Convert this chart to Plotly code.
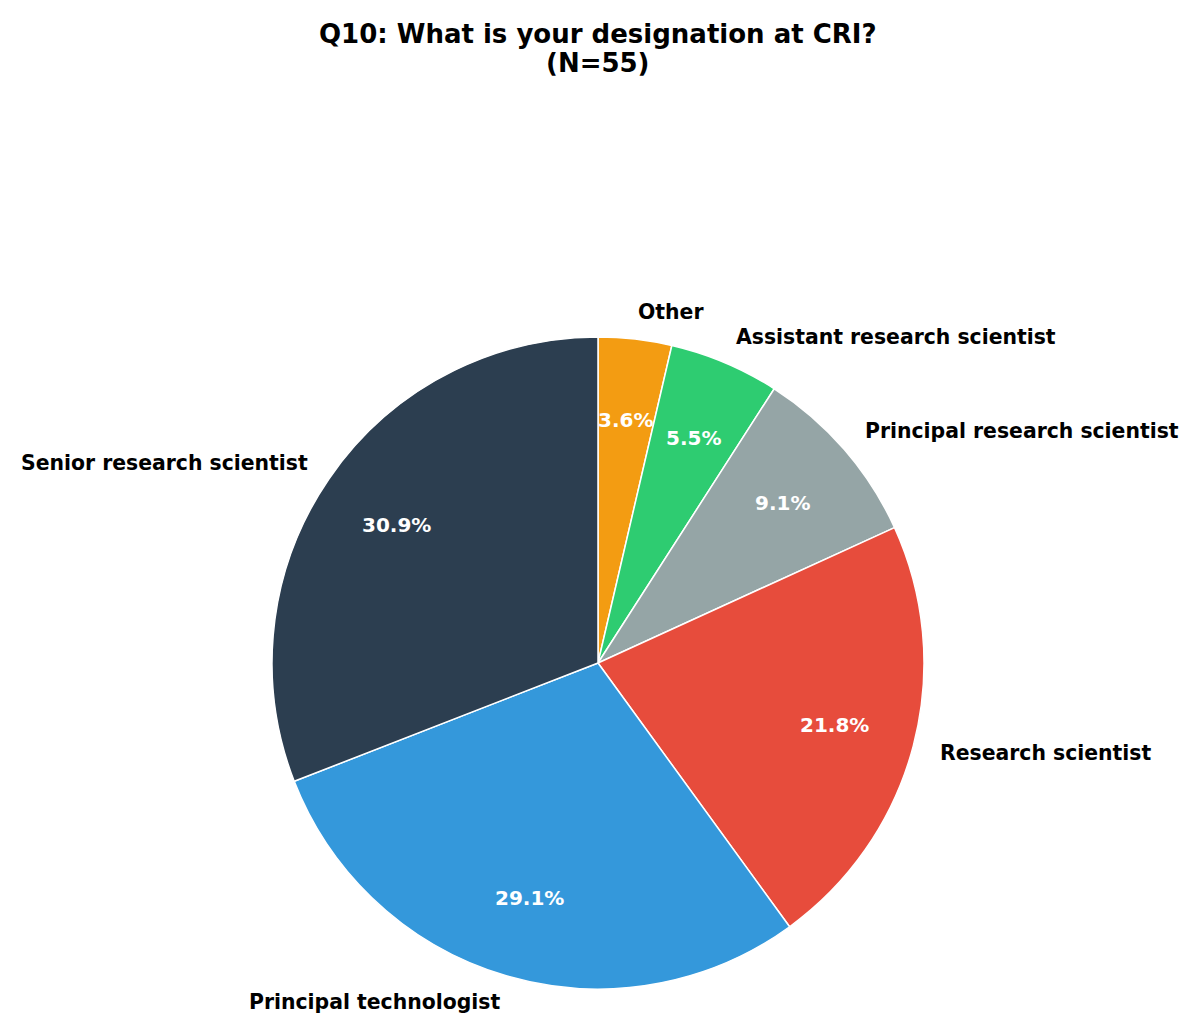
import numpy as np
import plotly.graph_objects as go

labels = ["Other", "Assistant research scientist", "Principal research scientist",
          "Research scientist", "Principal technologist", "Senior research scientist"]
counts = [2, 3, 5, 12, 16, 17]
colors = ["#f39c12", "#2ecc71", "#95a5a6", "#e74c3c", "#3498db", "#2c3e50"]
title_lines = ["Q10: What is your designation at CRI?", "(N=55)"]

W, H = 1200, 1035
OFF = 8  # page body margin offset
cx, cy, R = 598 - OFF, 663 - OFF, 326  # pixel center / radius of the pie

fig = go.Figure(go.Pie(
    labels=labels, values=counts, sort=False, direction="clockwise", rotation=0,
    marker=dict(colors=colors, line=dict(color="white", width=1.5)),
    textinfo="none", hoverinfo="label+percent", showlegend=False,
    domain=dict(x=[(cx - R) / W, (cx + R) / W], y=[1 - (cy + R) / H, 1 - (cy - R) / H]),
))

vals = np.array(counts, dtype=float)
frac = vals / vals.sum()
ends = np.cumsum(frac) * 360
starts = ends - frac * 360
mids = np.radians((starts + ends) / 2)

annotations = []
for lab, f, m in zip(labels, frac, mids):
    sx, sy = np.sin(m), np.cos(m)
    lx = cx + 1.085 * R * sx
    ly = cy - 1.085 * R * sy
    right = sx > 0
    annotations.append(dict(
        x=lx / W, y=1 - ly / H, xref="paper", yref="paper", text=f"<b>{lab}</b>",
        showarrow=False, xanchor="left" if right else "right", yanchor="middle",
        xshift=-1 if right else 3, borderpad=0,
        font=dict(family="DejaVu Sans", size=20.4, color="black")))
    px_ = cx + 0.75 * R * sx
    py_ = cy - 0.75 * R * sy
    annotations.append(dict(
        x=px_ / W, y=1 - py_ / H, xref="paper", yref="paper", text=f"<b>{f*100:.1f}%</b>",
        showarrow=False, xanchor="center", yanchor="middle",
        font=dict(family="DejaVu Sans", size=20, color="white")))

for line, ypx in zip(title_lines, [34, 63]):
    annotations.append(dict(
        x=(598 - OFF) / W, y=1 - (ypx - OFF) / H, xref="paper", yref="paper",
        text=f"<b>{line}</b>", showarrow=False, xanchor="center", yanchor="middle",
        font=dict(family="DejaVu Sans", size=26, color="black")))

fig.update_layout(
    width=W, height=H, margin=dict(l=0, r=0, t=0, b=0),
    paper_bgcolor="white", plot_bgcolor="white",
    annotations=annotations,
)

fig.write_html("out.html")
